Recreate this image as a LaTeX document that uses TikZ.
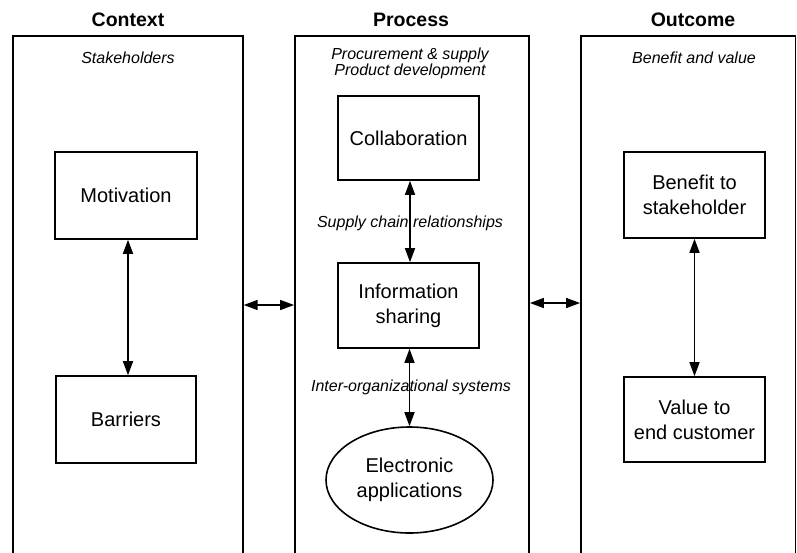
\documentclass[tikz,border=0pt]{standalone}
\usepackage{fontspec}
\setmainfont{Liberation Sans}
\usetikzlibrary{arrows.meta,shapes.geometric}
\tikzset{
  col/.style={draw, line width=1.8pt, minimum height=585pt, inner sep=0pt, anchor=north},
  box/.style={draw, line width=1.6pt, inner sep=0pt, align=center,
    font=\fontsize{20}{25}\selectfont},
  ttl/.style={anchor=base, font=\bfseries\fontsize{19.5}{22}\selectfont},
  lbl/.style={anchor=base, font=\itshape\fontsize{16}{17}\selectfont},
  dbl/.style={line width=1.5pt, {Triangle[length=14pt,width=10pt]}-{Triangle[length=14pt,width=10pt]}}
}
\begin{document}
\begin{tikzpicture}[x=1pt,y=-1pt]
\useasboundingbox (0,0) rectangle (797,552);
\clip (0,0) rectangle (797,552);
% columns
\node[col, minimum width=230pt] (ctx) at (127.8,35) {};
\node[col, minimum width=234pt] (proc) at (412,35) {};
\node[col, minimum width=214.5pt] (out) at (688.25,35) {};
% titles
\node[ttl] (tctx) at (128,26) {Context};
\node[ttl] (tproc) at (411,26) {Process};
\node[ttl] (tout) at (693,26) {Outcome};
% subtitles
\node[lbl] (lstake) at (128,63) {Stakeholders};
\node[lbl] (lproc1) at (410,59) {Procurement \& supply};
\node[lbl] (lproc2) at (410,75.5) {Product development};
\node[lbl] (lben) at (694,63) {Benefit and value};
\node[lbl] (lscr) at (410,227) {Supply chain relationships};
\node[lbl] (lios) at (411,391) {Inter-organizational systems};
% boxes
\node[box, minimum width=142pt, minimum height=87pt] (mot) at (126,195.5) {Motivation};
\node[box, minimum width=140pt, minimum height=87pt] (bar) at (126,419.5) {Barriers};
\node[box, minimum width=141pt, minimum height=84pt] (colb) at (408.5,138) {Collaboration};
\node[box, minimum width=141pt, minimum height=85pt] (info) at (408.5,305.5) {Information\\sharing};
\node[box, ellipse, minimum width=167pt, minimum height=106pt] (ell) at (409.5,480) {Electronic\\applications};
\node[box, minimum width=141pt, minimum height=86pt] (ben) at (694.5,195) {Benefit to\\stakeholder};
\node[box, minimum width=141pt, minimum height=85pt] (val) at (694.5,419.5) {Value to\\end customer};
% vertical arrows
\draw[dbl] (mot.south -| 128,0) -- (bar.north -| 128,0);
\draw[dbl] (colb.south -| 410,0) -- (info.north -| 410,0);
\draw[dbl] (info.south -| 409.5,0) -- (ell.north);
\draw[dbl] (ben.south -| 694.5,0) -- (val.north -| 694.5,0);
% horizontal arrows
\draw[dbl] (ctx.east |- 0,305) -- (proc.west |- 0,305);
\draw[dbl] (proc.east |- 0,303) -- (out.west |- 0,303);
\end{tikzpicture}
\end{document}
